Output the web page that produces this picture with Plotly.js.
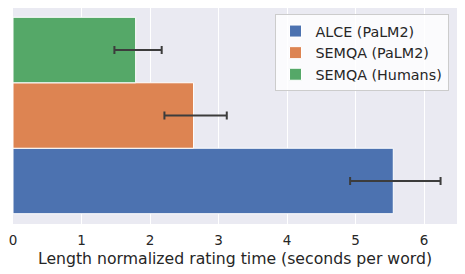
<!DOCTYPE html>
<html>
<head>
<meta charset="utf-8">
<script src="https://cdn.plot.ly/plotly-3.0.1.min.js"></script>
<style>html,body{margin:0;padding:0;background:#fff;}#chart{width:465px;height:274px;}</style>
</head>
<body>
<div id="chart"></div>
<script>
// Data
const seriesNames = ["ALCE (PaLM2)", "SEMQA (PaLM2)", "SEMQA (Humans)"];
const meanValues = [5.55, 2.635, 1.79];
const errLow = [4.92, 2.21, 1.48];
const errHigh = [6.24, 3.12, 2.17];
const category = ["Rating time"];
const xTicks = [0, 1, 2, 3, 4, 5, 6];
const xTitle = "Length normalized rating time (seconds per word)";

const colors = ["#4C72B0", "#DD8452", "#55A868"];

const traces = seriesNames.map((name, i) => ({
  type: "bar",
  orientation: "h",
  name: name,
  x: [meanValues[i]],
  y: category,
  marker: {color: colors[i], line: {color: "#ffffff", width: 1}},
  error_x: {
    type: "data",
    symmetric: false,
    array: [errHigh[i] - meanValues[i]],
    arrayminus: [meanValues[i] - errLow[i]],
    color: "#3c3c3c",
    thickness: 2,
    width: 4
  },
  hoverinfo: "skip"
}));

const layout = {
  width: 465,
  height: 274,
  margin: {l: 13, r: 8, t: 8, b: 50},
  paper_bgcolor: "#ffffff",
  plot_bgcolor: "#EAEAF2",
  barmode: "group",
  bargap: 0,
  bargroupgap: 0,
  font: {family: "DejaVu Sans", color: "#262626"},
  xaxis: {
    range: [0, 6.48],
    tickvals: xTicks,
    ticktext: xTicks.map(String),
    showgrid: true,
    gridcolor: "#ffffff",
    gridwidth: 1,
    zeroline: false,
    showline: false,
    ticks: "",
    ticklabelstandoff: 6,
    tickfont: {size: 13.5, color: "#262626"},
    title: {text: xTitle, font: {size: 15.7, color: "#262626"}, standoff: 6}
  },
  yaxis: {
    type: "category",
    range: [-0.5524, 0.5474],
    showticklabels: false,
    showgrid: false,
    zeroline: false,
    ticks: ""
  },
  legend: {
    x: 0.589, y: 0.971, xanchor: "left", yanchor: "top",
    bgcolor: "rgba(255,255,255,0.8)",
    bordercolor: "#cccccc",
    borderwidth: 1,
    font: {size: 14.3, color: "#262626"},
    traceorder: "normal"
  },
  showlegend: true
};

Plotly.newPlot("chart", traces, layout, {staticPlot: true, displayModeBar: false});
</script>
</body>
</html>
